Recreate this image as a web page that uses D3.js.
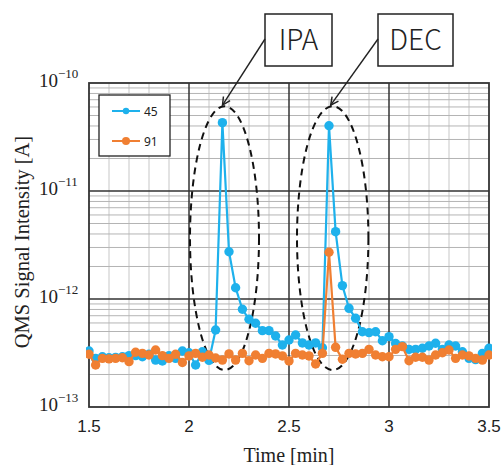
<!DOCTYPE html>
<html>
<head>
<meta charset="utf-8">
<script src="https://cdn.jsdelivr.net/npm/d3@7"></script>
<style>
  body { margin: 0; background: #fff; }
  svg { display: block; }
</style>
</head>
<body>
<div id="chart"></div>
<script>
// sampled every 2 s
const times = [
  1.500, 1.533, 1.567, 1.600, 1.633, 1.667, 1.700, 1.733, 1.767, 1.800,
  1.833, 1.867, 1.900, 1.933, 1.967, 2.000, 2.033, 2.067, 2.100, 2.133,
  2.167, 2.200, 2.233, 2.267, 2.300, 2.333, 2.367, 2.400, 2.433, 2.467,
  2.500, 2.533, 2.567, 2.600, 2.633, 2.667, 2.700, 2.733, 2.767, 2.800,
  2.833, 2.867, 2.900, 2.933, 2.967, 3.000, 3.033, 3.067, 3.100, 3.133,
  3.167, 3.200, 3.233, 3.267, 3.300, 3.333, 3.367, 3.400, 3.433, 3.467,
  3.500
];

// m/z 45
const mz45 = [
  3.30e-13, 2.82e-13, 2.92e-13, 2.86e-13, 2.88e-13, 2.92e-13, 2.99e-13, 2.99e-13, 2.92e-13, 3.08e-13,
  2.72e-13, 2.67e-13, 2.99e-13, 2.82e-13, 3.30e-13, 3.18e-13, 2.45e-13, 3.25e-13, 2.70e-13, 5.16e-13,
  4.29e-11, 2.74e-12, 1.27e-12, 8.03e-13, 6.49e-13, 5.96e-13, 5.09e-13, 5.09e-13, 4.54e-13, 3.75e-13,
  4.17e-13, 4.64e-13, 3.92e-13, 3.75e-13, 3.92e-13, 3.54e-13, 4.02e-11, 4.20e-12, 1.33e-12, 8.20e-13,
  6.63e-13, 4.98e-13, 4.88e-13, 4.98e-13, 4.11e-13, 4.48e-13, 3.87e-13, 3.67e-13, 3.42e-13, 3.42e-13,
  3.50e-13, 3.67e-13, 3.89e-13, 3.42e-13, 3.75e-13, 3.67e-13, 3.25e-13, 2.82e-13, 2.75e-13, 3.14e-13,
  3.50e-13
];

// m/z 91
const mz91 = [
  3.08e-13, 2.45e-13, 2.82e-13, 2.79e-13, 2.82e-13, 2.86e-13, 2.63e-13, 3.21e-13, 3.14e-13, 3.03e-13,
  3.37e-13, 2.99e-13, 2.82e-13, 3.08e-13, 2.58e-13, 2.97e-13, 3.14e-13, 2.89e-13, 3.03e-13, 2.84e-13,
  2.72e-13, 3.10e-13, 2.72e-13, 3.14e-13, 2.68e-13, 3.03e-13, 2.82e-13, 3.14e-13, 3.10e-13, 2.97e-13,
  2.67e-13, 3.14e-13, 3.03e-13, 2.97e-13, 2.50e-13, 3.14e-13, 2.71e-12, 3.57e-13, 2.77e-13, 3.14e-13,
  3.10e-13, 3.14e-13, 3.42e-13, 3.03e-13, 2.92e-13, 2.92e-13, 3.42e-13, 3.62e-13, 2.68e-13, 2.89e-13,
  2.89e-13, 2.72e-13, 3.03e-13, 3.18e-13, 3.37e-13, 2.82e-13, 3.03e-13, 2.97e-13, 2.82e-13, 2.72e-13,
  3.03e-13
];

const seriesNames = ['45', '91'];
const xTicks = [1.5, 2, 2.5, 3, 3.5];
const xTickLabels = ['1.5', '2', '2.5', '3', '3.5'];
const yTicks = [1e-13, 1e-12, 1e-11, 1e-10];
const yTickExps = ['\u221213', '\u221212', '\u221211', '\u221210'];

// peaks circled in the picture: [t start, t end], shared top/bottom
const peakLabels = ['IPA', 'DEC'];
const peakSpans = [[2.005, 2.35], [2.54, 2.897]];
const peakValueRange = [6.1e-11, 2.2e-13];

const colors = ['#1eb1ec', '#f07f32'];

const W = 501, H = 465;
const margin = {top: 83, right: 12, bottom: 58, left: 89};
const width = W - margin.left - margin.right;
const height = H - margin.top - margin.bottom;

const svg = d3.select('#chart').append('svg')
    .attr('width', W)
    .attr('height', H);

const defs = svg.append('defs');
defs.append('clipPath').attr('id', 'plotclip')
  .append('rect').attr('x', -3).attr('y', -3).attr('width', width + 6).attr('height', height + 6);
defs.append('marker')
    .attr('id', 'tip')
    .attr('viewBox', '0 0 10 10')
    .attr('refX', 9).attr('refY', 5)
    .attr('markerWidth', 7).attr('markerHeight', 7)
    .attr('orient', 'auto')
  .append('path')
    .attr('d', 'M1,1 L9,5 L1,9')
    .attr('fill', 'none')
    .attr('stroke', '#222')
    .attr('stroke-width', 1.5);

const g = svg.append('g')
    .attr('transform', 'translate(' + margin.left + ',' + margin.top + ')');

const xScale = d3.scaleLinear().domain([1.5, 3.5]).range([0, width]);
const yScale = d3.scaleLog().domain([1e-13, 1e-10]).range([height, 0]);

// grid
const grid = g.append('g').attr('class', 'grid');
const xMinor = d3.range(1.6, 3.45, 0.1).filter(t => Math.abs(t * 2 - Math.round(t * 2)) > 1e-6);
grid.selectAll('.vminor').data(xMinor).join('line')
    .attr('x1', d => xScale(d)).attr('x2', d => xScale(d))
    .attr('y1', 0).attr('y2', height)
    .attr('stroke', '#dadada').attr('stroke-width', 1.5);

const yMinor = [];
yTicks.slice(0, -1).forEach(base => {
  for (let k = 2; k <= 9; k++) yMinor.push(base * k);
});
grid.selectAll('.hminor').data(yMinor).join('line')
    .attr('x1', 0).attr('x2', width)
    .attr('y1', d => yScale(d)).attr('y2', d => yScale(d))
    .attr('stroke', '#b4b4b4').attr('stroke-width', 1);

grid.selectAll('.vmajor').data(xTicks.slice(1, -1)).join('line')
    .attr('x1', d => xScale(d)).attr('x2', d => xScale(d))
    .attr('y1', 0).attr('y2', height)
    .attr('stroke', '#333').attr('stroke-width', 1.5);
grid.selectAll('.hmajor').data(yTicks.slice(1, -1)).join('line')
    .attr('x1', 0).attr('x2', width)
    .attr('y1', d => yScale(d)).attr('y2', d => yScale(d))
    .attr('stroke', '#333').attr('stroke-width', 1.5);

g.append('rect')
    .attr('width', width).attr('height', height)
    .attr('fill', 'none').attr('stroke', '#333').attr('stroke-width', 1.8);

// tick labels
g.selectAll('.xlab').data(xTicks).join('text')
    .attr('x', d => xScale(d))
    .attr('y', height + 25)
    .attr('text-anchor', 'middle')
    .attr('font-family', 'Liberation Sans, Arial, sans-serif')
    .attr('font-size', 17)
    .attr('fill', '#222')
    .text((d, i) => xTickLabels[i]);

const ylab = g.selectAll('.ylab').data(yTicks).join('text')
    .attr('x', -50)
    .attr('y', d => yScale(d) + 4)
    .attr('font-family', 'Liberation Serif, Times New Roman, serif')
    .attr('font-size', 19)
    .attr('fill', '#222');
ylab.append('tspan').text('10');
ylab.append('tspan')
    .attr('dy', -9)
    .attr('font-size', 13)
    .text((d, i) => yTickExps[i]);

// axis titles
svg.append('text')
    .attr('x', margin.left + width / 2)
    .attr('y', H - 3)
    .attr('text-anchor', 'middle')
    .attr('font-family', 'Liberation Serif, Times New Roman, serif')
    .attr('font-size', 20)
    .attr('fill', '#222')
    .text('Time [min]');

svg.append('text')
    .attr('transform', 'translate(29,' + (margin.top + height / 2 - 3) + ') rotate(-90)')
    .attr('text-anchor', 'middle')
    .attr('font-family', 'Liberation Serif, Times New Roman, serif')
    .attr('font-size', 20.5)
    .attr('fill', '#222')
    .text('QMS Signal Intensity [A]');

// ellipses around peaks
const ell = g.append('g');
peakSpans.forEach(span => {
  const x0 = xScale(span[0]), x1 = xScale(span[1]);
  const y0 = yScale(peakValueRange[0]), y1 = yScale(peakValueRange[1]);
  ell.append('ellipse')
      .attr('cx', (x0 + x1) / 2).attr('cy', (y0 + y1) / 2)
      .attr('rx', (x1 - x0) / 2).attr('ry', (y1 - y0) / 2)
      .attr('fill', 'none')
      .attr('stroke', '#111')
      .attr('stroke-width', 2)
      .attr('stroke-dasharray', '7,5');
});

// data
const plot = g.append('g').attr('clip-path', 'url(#plotclip)');
const line = d3.line()
    .x((d, i) => xScale(times[i]))
    .y(d => yScale(d));

[mz45, mz91].forEach((vals, s) => {
  const sg = plot.append('g');
  sg.append('path')
      .datum(vals)
      .attr('d', line)
      .attr('fill', 'none')
      .attr('stroke', colors[s])
      .attr('stroke-width', 2.2);
  sg.selectAll('circle').data(vals).join('circle')
      .attr('cx', (d, i) => xScale(times[i]))
      .attr('cy', d => yScale(d))
      .attr('r', 4.7)
      .attr('fill', colors[s]);
});

// callout boxes
const boxes = [{x: 265, y: 14, w: 67, h: 52}, {x: 378, y: 14, w: 75, h: 52}];
peakLabels.forEach((lab, i) => {
  const b = boxes[i];
  const span = peakSpans[i];
  svg.append('rect')
      .attr('x', b.x).attr('y', b.y).attr('width', b.w).attr('height', b.h)
      .attr('fill', '#fff').attr('stroke', '#222').attr('stroke-width', 1.5);
  svg.append('text')
      .attr('x', b.x + b.w / 2).attr('y', b.y + b.h / 2 + 10)
      .attr('text-anchor', 'middle')
      .attr('font-family', 'Noto Sans CJK JP, Noto Sans, sans-serif')
      .attr('font-weight', 300)
      .attr('font-size', 28)
      .attr('fill', '#222')
      .text(lab);
  svg.append('line')
      .attr('x1', b.x).attr('y1', b.y + b.h / 2 - 1)
      .attr('x2', margin.left + xScale((span[0] + span[1]) / 2) - 2)
      .attr('y2', margin.top + yScale(peakValueRange[0]) - 1)
      .attr('stroke', '#222').attr('stroke-width', 1.4)
      .attr('marker-end', 'url(#tip)');
});

// legend
const leg = svg.append('g').attr('transform', 'translate(99,95)');
leg.append('rect')
    .attr('width', 71).attr('height', 61)
    .attr('fill', '#fff').attr('stroke', '#222').attr('stroke-width', 1.3);
seriesNames.forEach((name, i) => {
  const ly = 16 + i * 30;
  leg.append('line')
      .attr('x1', 13).attr('x2', 41).attr('y1', ly).attr('y2', ly)
      .attr('stroke', colors[i]).attr('stroke-width', 2);
  leg.append('circle')
      .attr('cx', 27).attr('cy', ly).attr('r', i === 0 ? 3.2 : 4)
      .attr('fill', colors[i]);
  leg.append('text')
      .attr('x', 45).attr('y', ly + 4.5)
      .attr('font-family', 'Noto Sans, sans-serif')
      .attr('font-size', 12)
      .attr('fill', '#222')
      .text(name);
});
</script>
</body>
</html>
